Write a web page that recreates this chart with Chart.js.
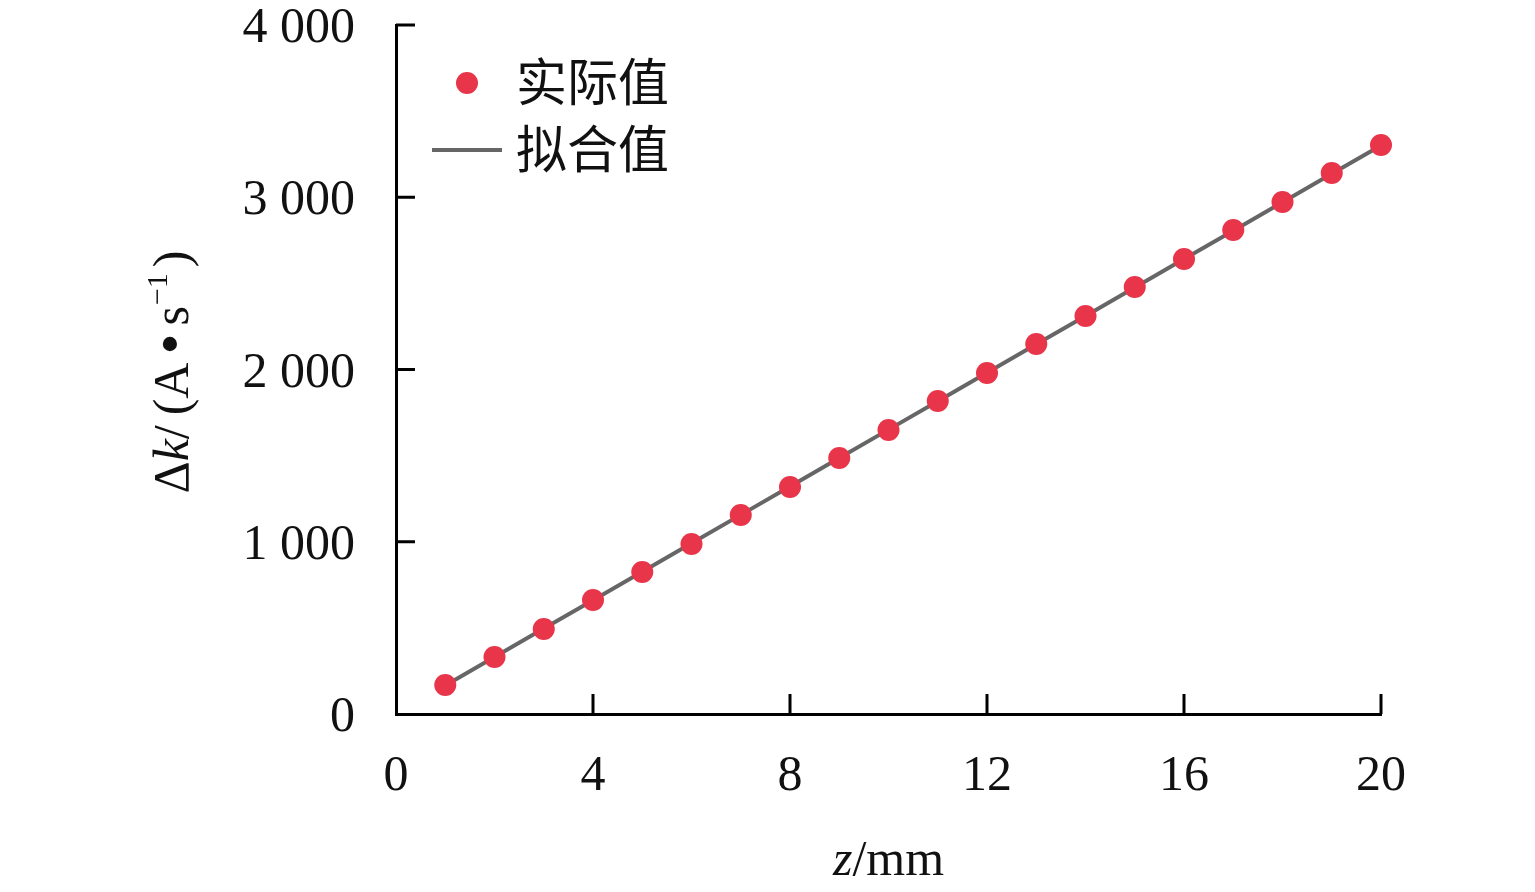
<!DOCTYPE html>
<html>
<head>
<meta charset="utf-8">
<script src="https://cdn.jsdelivr.net/npm/chart.js@4.4.1/dist/chart.umd.min.js"></script>
<style>
  html, body { margin: 0; padding: 0; background: #fff; }
  #wrap { width: 1535px; height: 892px; }
</style>
</head>
<body>
<div id="wrap"><canvas id="chart" width="1535" height="892"></canvas></div>
<script>
// data
var zValues = [1, 2, 3, 4, 5, 6, 7, 8, 9, 10, 11, 12, 13, 14, 15, 16, 17, 18, 19, 20];
var actualValues = [168, 331, 493, 662, 824, 987, 1155, 1318, 1486, 1649, 1817, 1980, 2148, 2311, 2479, 2641, 2810, 2972, 3141, 3303];
var fitValues = [166, 331, 496, 661, 826, 991, 1156, 1321, 1486, 1651, 1816, 1981, 2146, 2311, 2476, 2641, 2806, 2971, 3136, 3301];
var xTickLabels = ["0", "4", "8", "12", "16", "20"];
var yTickLabels = ["0", "1 000", "2 000", "3 000", "4 000"];
var legendLabels = ["实际值", "拟合值"];

var RED = "#e8354a";
var GREY = "#666666";
var SERIF = "'Liberation Serif', 'DejaVu Serif', serif";
var CJK = "'Noto Sans CJK SC', sans-serif";

function toPoints(xs, ys) {
  return xs.map(function (x, i) { return { x: x, y: ys[i] }; });
}

var extras = {
  id: "extras",
  afterDraw: function (chart) {
    var ctx = chart.ctx;
    var xs = chart.scales.x, ys = chart.scales.y;
    var area = chart.chartArea;
    ctx.save();
    // inward tick marks
    ctx.strokeStyle = "#000";
    ctx.lineWidth = 3;
    ctx.beginPath();
    xs.ticks.forEach(function (t) {
      if (t.value === 0) return;
      var px = xs.getPixelForValue(t.value);
      ctx.moveTo(px, area.bottom);
      ctx.lineTo(px, area.bottom - 20);
    });
    ys.ticks.forEach(function (t) {
      if (t.value === 0) return;
      var py = ys.getPixelForValue(t.value);
      ctx.moveTo(area.left, py);
      ctx.lineTo(area.left + 19, py);
    });
    ctx.stroke();

    // legend
    ctx.fillStyle = RED;
    ctx.beginPath();
    ctx.arc(467, 83, 11, 0, Math.PI * 2);
    ctx.fill();
    ctx.strokeStyle = GREY;
    ctx.lineWidth = 4;
    ctx.beginPath();
    ctx.moveTo(432, 150);
    ctx.lineTo(502, 150);
    ctx.stroke();
    ctx.fillStyle = "#111";
    ctx.font = "51px " + CJK;
    ctx.textBaseline = "middle";
    ctx.textAlign = "left";
    ctx.fillText(legendLabels[0], 516, 82);
    ctx.fillText(legendLabels[1], 516, 149);

    // x axis title: z/mm
    var size = 50;
    ctx.textBaseline = "alphabetic";
    ctx.font = "italic " + size + "px " + SERIF;
    var w1 = ctx.measureText("z").width;
    ctx.font = size + "px " + SERIF;
    var w2 = ctx.measureText("/mm").width;
    var x0 = (area.left + area.right) / 2 - (w1 + w2) / 2;
    ctx.font = "italic " + size + "px " + SERIF;
    ctx.fillText("z", x0, 875);
    ctx.font = size + "px " + SERIF;
    ctx.fillText("/mm", x0 + w1, 875);

    // y axis title: Δk/(A•s^-1)
    var parts = [
      { t: "Δ", f: size + "px " + SERIF, dy: 0, gap: 0 },
      { t: "k", f: "italic " + size + "px " + SERIF, dy: 0, gap: 0 },
      { t: "/", f: size + "px " + SERIF, dy: 0, gap: 10 },
      { t: "(A", f: size + "px " + SERIF, dy: 0, gap: 8 },
      { t: "•", f: "60px " + SERIF, dy: 2, gap: 8 },
      { t: "s", f: size + "px " + SERIF, dy: 0, gap: 1 },
      { t: "−1", f: "30px " + SERIF, dy: -21, gap: 6 },
      { t: ")", f: size + "px " + SERIF, dy: 0, gap: 0 }
    ];
    var total = 0;
    parts.forEach(function (p) { ctx.font = p.f; p.w = ctx.measureText(p.t).width; total += p.w + p.gap; });
    ctx.translate(188, 372);
    ctx.rotate(-Math.PI / 2);
    var cx = -total / 2;
    parts.forEach(function (p) {
      ctx.font = p.f;
      ctx.fillText(p.t, cx, p.dy);
      cx += p.w + p.gap;
    });
    ctx.restore();
  }
};

new Chart(document.getElementById("chart"), {
  type: "scatter",
  data: {
    datasets: [{
      label: legendLabels[1],
      data: toPoints(zValues, fitValues),
      showLine: true,
      borderColor: GREY,
      borderWidth: 4,
      pointRadius: 0,
      fill: false,
      clip: false,
      order: 2
    }, {
      label: legendLabels[0],
      data: toPoints(zValues, actualValues),
      showLine: false,
      backgroundColor: RED,
      borderColor: RED,
      pointRadius: 11,
      pointBorderWidth: 0,
      clip: false,
      order: 1
    }]
  },
  options: {
    responsive: false,
    animation: false,
    layout: { padding: { left: 0, top: 25, right: 154, bottom: 0 } },
    plugins: {
      legend: { display: false },
      tooltip: { enabled: false }
    },
    scales: {
      x: {
        type: "linear",
        min: 0, max: 20,
        grid: { display: false, drawTicks: false },
        border: { display: true, color: "#000", width: 3 },
        ticks: {
          stepSize: 4,
          padding: 38,
          color: "#111",
          maxRotation: 0,
          font: { family: SERIF, size: 50, lineHeight: 1 },
          callback: function (v, i) { return xTickLabels[i]; }
        },
        afterFit: function (s) { s.height = 178; s.paddingLeft = 0; s.paddingRight = 0; }
      },
      y: {
        type: "linear",
        min: 0, max: 4000,
        grid: { display: false, drawTicks: false },
        border: { display: true, color: "#000", width: 3 },
        ticks: {
          stepSize: 1000,
          padding: 41,
          labelOffset: 4,
          color: "#111",
          font: { family: SERIF, size: 50, lineHeight: 1 },
          callback: function (v, i) { return yTickLabels[i]; }
        },
        afterFit: function (s) { s.width = 396; s.paddingTop = 0; s.paddingBottom = 0; }
      }
    }
  },
  plugins: [extras]
});
</script>
</body>
</html>
